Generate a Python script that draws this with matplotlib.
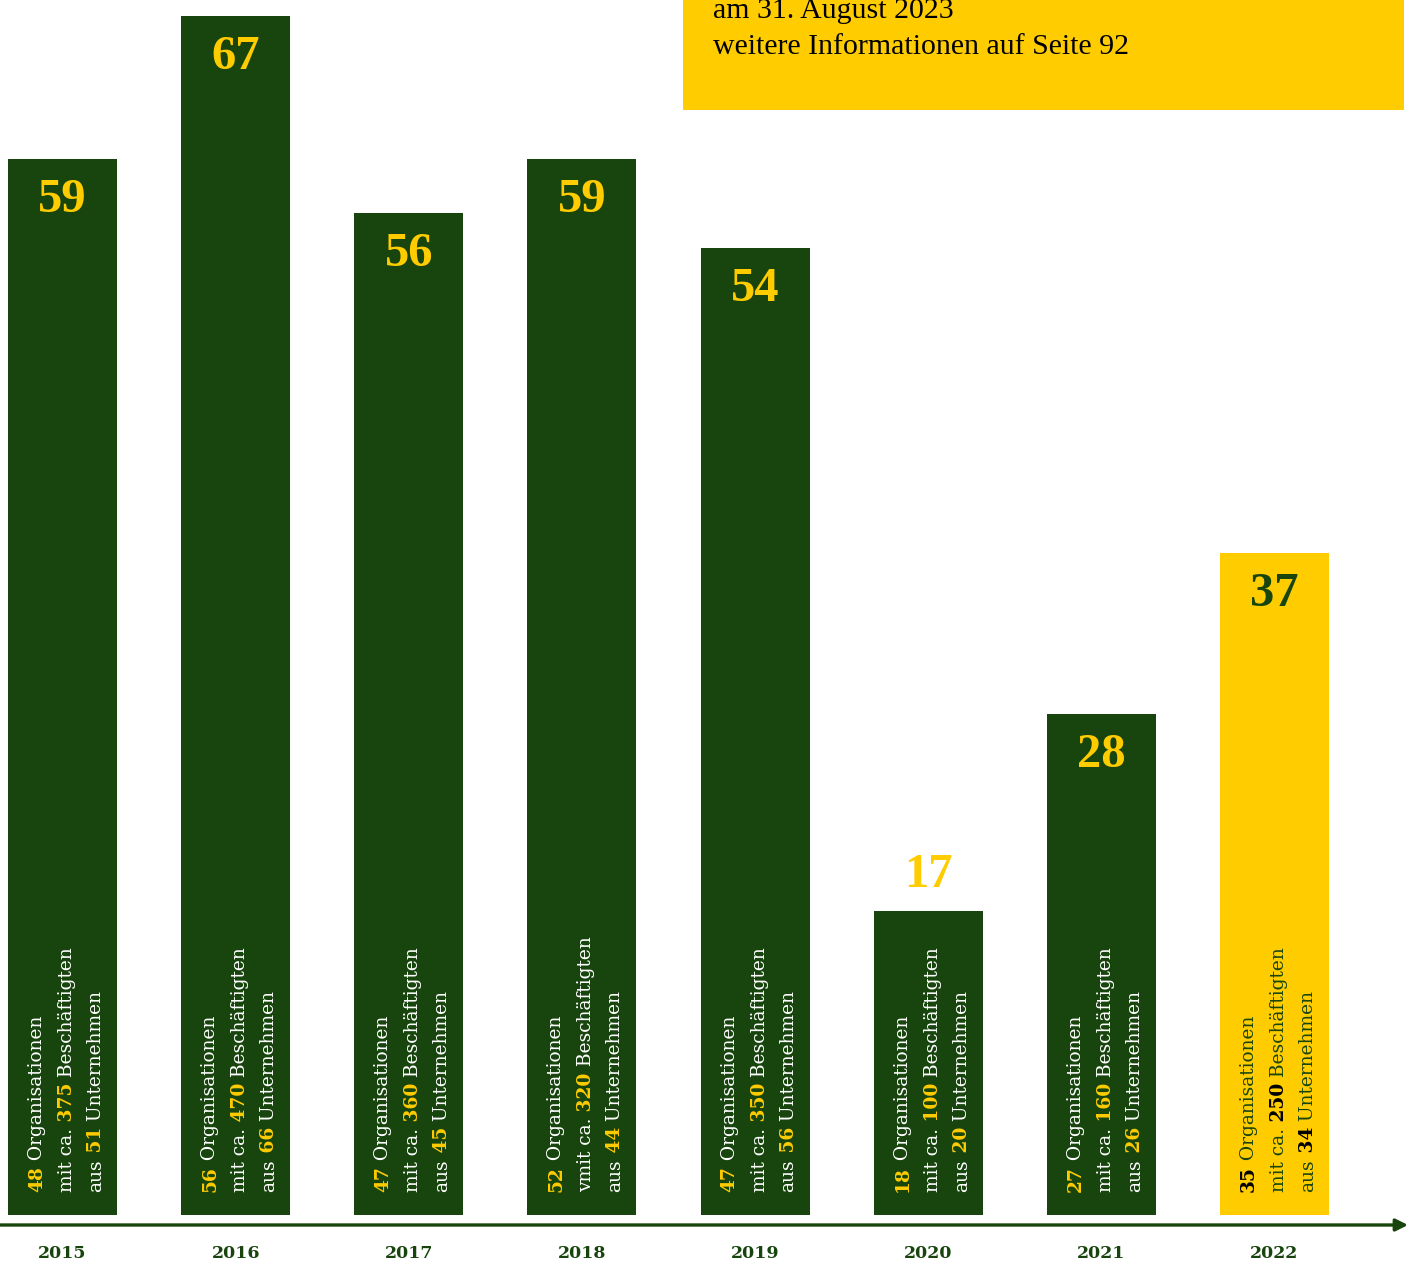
import matplotlib
matplotlib.use("Agg")
import matplotlib.pyplot as plt
from matplotlib.patches import Rectangle

# data
years = ['2015', '2016', '2017', '2018', '2019', '2020', '2021', '2022']
totals = [59, 67, 56, 59, 54, 17, 28, 37]
orgs = [48, 56, 47, 52, 47, 18, 27, 35]
staff = [375, 470, 360, 320, 350, 100, 160, 250]
firms = [51, 66, 45, 44, 56, 20, 26, 34]
staff_prefix = ['mit ca. ', 'mit ca. ', 'mit ca. ', 'vmit ca. ',
                'mit ca. ', 'mit ca. ', 'mit ca. ', 'mit ca. ']
note_lines = ['am 31. August 2023', 'weitere Informationen auf Seite 92']

GREEN = '#18450e'
YELLOW = '#ffcc00'

W, H = 1408, 1261
fig = plt.figure(figsize=(W / 100, H / 100), dpi=100)

# axes: bottom spine (arrow line) at 1225 px from top
ax_bottom_px = 1225
ax = fig.add_axes([0, (H - ax_bottom_px) / H, 1, ax_bottom_px / H])
unit_x = 173.14   # px per category
unit_y = 17.9     # px per count
ax.set_xlim(-62.5 / unit_x, 7 + (W - 1274.5) / unit_x)
ax.set_ylim(-10 / unit_y, (ax_bottom_px - 10) / unit_y)

x = list(range(len(years)))
bar_colors = [GREEN] * 7 + [YELLOW]
ax.bar(x, totals, width=109 / unit_x, color=bar_colors, zorder=2)

for s in ax.spines.values():
    s.set_visible(False)
ax.set_yticks([])
ax.set_xticks([])

# axis arrow
ax.annotate('', xy=(1.0, 0), xytext=(0, 0), xycoords='axes fraction',
            arrowprops=dict(arrowstyle='-|>', color=GREEN, lw=2.4,
                            mutation_scale=18, shrinkA=0, shrinkB=0))

# year labels
for i, yr in enumerate(years):
    ax.annotate(yr, (i, 0), xytext=(0, -43), textcoords='offset pixels',
                ha='center', va='baseline', color=GREEN,
                fontfamily='DejaVu Serif', fontweight='bold', fontsize=12.5)

# big value labels
for i, v in enumerate(totals):
    if v < 20:
        dy, col = 36, YELLOW
    else:
        dy, col = -41, (GREEN if i == 7 else YELLOW)
    ax.annotate(str(v), (i, v), xytext=(0, dy), textcoords='offset pixels',
                ha='center', va='center', color=col,
                fontfamily='Liberation Serif', fontweight='bold', fontsize=35)

# rotated multi-colour description inside bars
renderer = fig.canvas.get_renderer()
TXT_SIZE = 13.4


def draw_line(i, dx, parts, num_col, txt_col):
    cur = 23
    for seg, bold in parts:
        t = ax.annotate(seg, (i, 0), xytext=(dx, cur), textcoords='offset pixels',
                        rotation=90, rotation_mode='anchor', ha='left', va='baseline',
                        color=num_col if bold else txt_col,
                        fontfamily='DejaVu Serif',
                        fontweight='bold' if bold else 'normal', fontsize=TXT_SIZE)
        cur += t.get_window_extent(renderer).height


for i in x:
    num_col = 'black' if i == 7 else YELLOW
    txt_col = GREEN if i == 7 else 'white'
    draw_line(i, -20.5, [(str(orgs[i]), True), (' Organisationen', False)], num_col, txt_col)
    draw_line(i, 9.5, [(staff_prefix[i].rstrip(), False), (' ' + str(staff[i]), True),
                       (' Beschäftigten', False)], num_col, txt_col)
    draw_line(i, 38.5, [('aus', False), (' ' + str(firms[i]), True),
                        (' Unternehmen', False)], num_col, txt_col)

# yellow note box top right
fig.add_artist(Rectangle((683 / W, 1 - 110 / H), (1404 - 683) / W, 110 / H,
                         transform=fig.transFigure, color=YELLOW, lw=0))
for k, line in enumerate(note_lines):
    fig.text(713 / W, 1 - (18 + 36 * k) / H, line, va='baseline', ha='left',
             fontfamily='Liberation Serif', fontsize=21.5, color='black')

fig.savefig('out.png', dpi=100)
